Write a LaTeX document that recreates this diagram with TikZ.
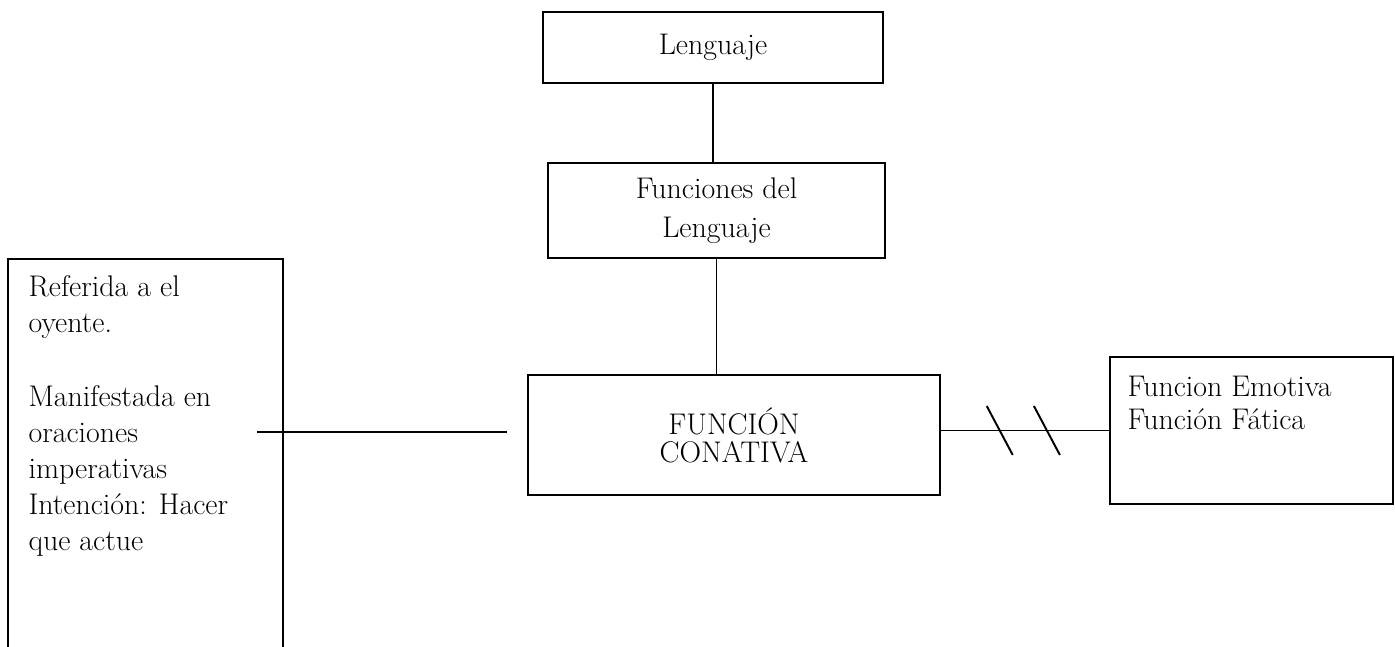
\documentclass[tikz,border=0pt]{standalone}
\usepackage{fontspec}
\usepackage{tikz}
\usetikzlibrary{positioning}

\begin{document}
\begin{tikzpicture}[
    box/.style={draw, line width=0.9pt, inner sep=0pt},
    txt/.style={inner sep=0pt, align=left, anchor=north west},
    font=\fontsize{17}{20.5}\selectfont
]
\useasboundingbox (0,0) rectangle (27.9,-12.94);

% Top of the chain
\node (Len) [box, minimum width=6.8cm, minimum height=1.42cm] at (14.26, -0.95) {Lenguaje};
\node (Fun) [box, minimum width=6.74cm, minimum height=1.9cm, align=center] at (14.33, -4.21) {Funciones del\\[0.05cm]Lenguaje};

\draw[line width=0.8pt] (Len.south) -- (Len.south |- Fun.north);

% Main function
\node (Con) [box, minimum width=8.24cm, minimum height=2.4cm, align=center,
    font=\fontsize{17}{16}\selectfont] at (14.68, -8.7) {FUNCIÓN\\CONATIVA};

\draw[line width=0.8pt] (Fun.south) -- (Fun.south |- Con.north);

% Description on the left
\node (Ref) [box, minimum width=5.5cm, minimum height=8.4cm] at (2.91, -9.38) {};
\node (RefTxt) [txt] at ([shift={(0.42,-0.34)}]Ref.north west) {Referida a el\\oyente.\\[0.76cm]Manifestada en\\oraciones\\imperativas\\Intención: Hacer\\que actue};

\coordinate (L1) at (5.14, -8.64);
\coordinate (L2) at (10.14, -8.64);
\draw[line width=0.8pt] (L1) -- (L2);

% Other functions on the right
\node (Emo) [box, minimum width=5.66cm, minimum height=2.94cm] at (25.03, -8.61) {};
\node (EmoTxt) [txt, font=\fontsize{17}{18.8}\selectfont] at ([shift={(0.36,-0.4)}]Emo.north west) {Funcion Emotiva\\Función Fática};

\draw[line width=0.8pt] (Emo.west -| Con.east) -- coordinate[pos=0.35] (S1) coordinate[pos=0.63] (S2) (Emo.west);
\draw[line width=1.1pt] ([shift={(-0.26,0.49)}]S1) -- ([shift={(0.26,-0.49)}]S1);
\draw[line width=1.1pt] ([shift={(-0.26,0.49)}]S2) -- ([shift={(0.26,-0.49)}]S2);

\end{tikzpicture}
\end{document}
